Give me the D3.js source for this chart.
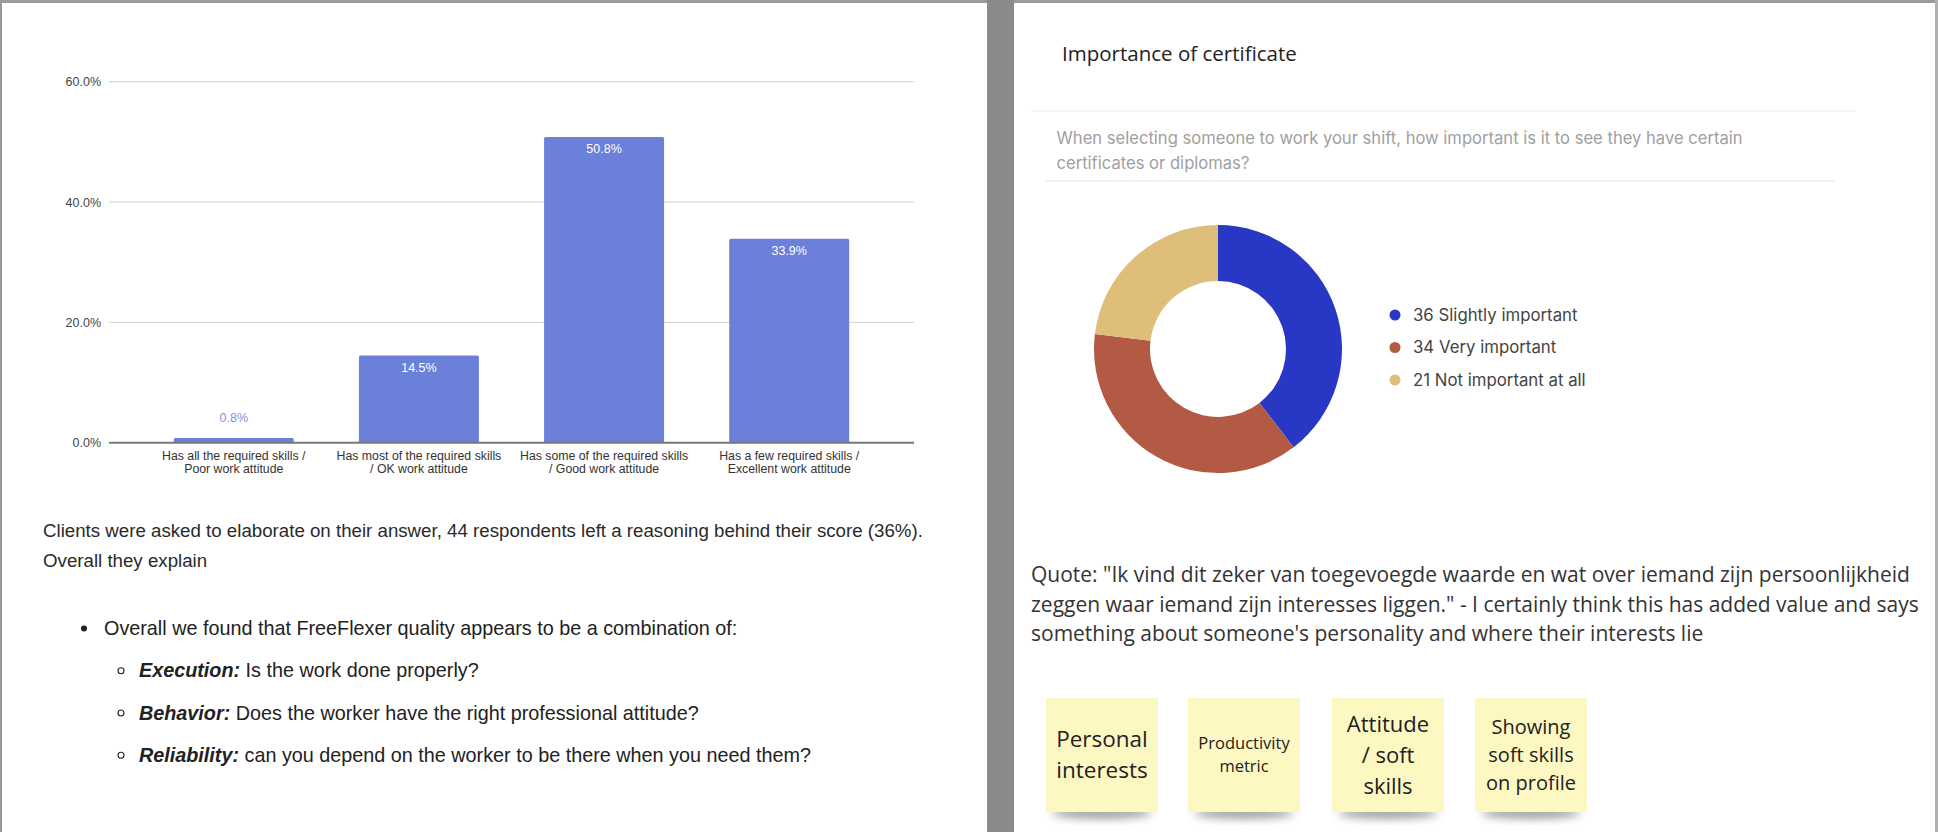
<!DOCTYPE html>
<html>
<head>
<meta charset="utf-8">
<script src="https://cdn.jsdelivr.net/npm/d3@7"></script>
<style>
  body { margin: 0; background: #fff; }
  svg { display: block; }
</style>
</head>
<body>
<svg id="page" width="1938" height="832"></svg>
<script>
// bar chart data
var barCategories = [
  ["Has all the required skills /", "Poor work attitude"],
  ["Has most of the required skills", "/ OK work attitude"],
  ["Has some of the required skills", "/ Good work attitude"],
  ["Has a few required skills /", "Excellent work attitude"]
];
var barValues = [0.8, 14.5, 50.8, 33.9];
var yTicks = [0, 20, 40, 60];

// donut data
var donutLabels = ["Slightly important", "Very important", "Not important at all"];
var donutValues = [36, 34, 21];
var donutColors = ["#2837c4", "#b35a44", "#dfbe79"];

// texts
var introLines = [
  "Clients were asked to elaborate on their answer, 44 respondents left a reasoning behind their score (36%).",
  "Overall they explain"
];
var bulletMain = "Overall we found that FreeFlexer quality appears to be a combination of:";
var subBullets = [
  ["Execution:", " Is the work done properly?"],
  ["Behavior:", " Does the worker have the right professional attitude?"],
  ["Reliability:", " can you depend on the worker to be there when you need them?"]
];
var quoteLines = [
  "Quote: \"Ik vind dit zeker van toegevoegde waarde en wat over iemand zijn persoonlijkheid",
  "zeggen waar iemand zijn interesses liggen.\" - I certainly think this has added value and says",
  "something about someone's personality and where their interests lie"
];
var notes = [
  {lines: ["Personal", "interests"], size: 22.5, gap: 31},
  {lines: ["Productivity", "metric"], size: 16.5, gap: 23},
  {lines: ["Attitude", "/ soft", "skills"], size: 22, gap: 31},
  {lines: ["Showing", "soft skills", "on profile"], size: 20, gap: 28}
];

var svg = d3.select("#page");

//Sfondo / cornici
svg.append("rect").attr("x", 0).attr("y", 0).attr("width", 1938).attr("height", 832).attr("fill", "#fff");
svg.append("rect").attr("x", 0).attr("y", 0).attr("width", 1938).attr("height", 3).attr("fill", "#9a9a9a");
svg.append("rect").attr("x", 0).attr("y", 0).attr("width", 2).attr("height", 832).attr("fill", "#9a9a9a");
svg.append("rect").attr("x", 987).attr("y", 0).attr("width", 27).attr("height", 832).attr("fill", "#8a8a8a");
svg.append("rect").attr("x", 1935).attr("y", 0).attr("width", 3).attr("height", 832).attr("fill", "#b0b0b0");

//Bar chart
var barFont = "'Liberation Sans', Arial, sans-serif";
var barColor = "#6b80d9";

var x = d3.scaleBand()
  .domain(d3.range(barValues.length))
  .range([109, 914])
  .paddingInner(0.352)
  .paddingOuter(0.35);

var y = d3.scaleLinear().domain([0, 60]).range([442.7, 81.7]);

var bars = svg.append("g").attr("id", "bars");

bars.append("g")
  .attr("class", "grid")
  .selectAll("line")
  .data(yTicks.filter(function(d) { return d > 0; }))
  .join("line")
  .attr("x1", 109).attr("x2", 914)
  .attr("y1", function(d) { return y(d); })
  .attr("y2", function(d) { return y(d); })
  .attr("stroke", "#d9d9d9")
  .attr("stroke-width", 1.2);

var yAxis = bars.append("g")
  .attr("transform", "translate(109,0)")
  .call(d3.axisLeft(y).tickValues(yTicks).tickSize(0).tickPadding(8)
    .tickFormat(function(d) { return d3.format(".1f")(d) + "%"; }));
yAxis.select(".domain").remove();
yAxis.selectAll("text")
  .style("font-family", barFont)
  .style("font-size", "12.5px")
  .attr("fill", "#444");

bars.selectAll(".bar")
  .data(barValues)
  .join("rect")
  .attr("class", "bar")
  .attr("x", function(d, i) { return x(i); })
  .attr("width", x.bandwidth())
  .attr("y", function(d) { return y(d); })
  .attr("height", function(d) { return y(0) - y(d); })
  .attr("rx", 1.5)
  .attr("fill", barColor);

bars.append("line")
  .attr("x1", 109).attr("x2", 914)
  .attr("y1", y(0)).attr("y2", y(0))
  .attr("stroke", "#777")
  .attr("stroke-width", 2);

bars.selectAll(".valLabel")
  .data(barValues)
  .join("text")
  .attr("class", "valLabel")
  .attr("x", function(d, i) { return x(i) + x.bandwidth() / 2; })
  .attr("y", function(d) { return d < 5 ? y(d) - 20 : y(d) + 12; })
  .attr("dy", "0.35em")
  .attr("text-anchor", "middle")
  .style("font-family", barFont)
  .style("font-size", "12.5px")
  .attr("fill", function(d) { return d < 5 ? "#7e91e2" : "#fff"; })
  .text(function(d) { return d3.format(".1f")(d) + "%"; });

var xLab = bars.selectAll(".xLabel")
  .data(barCategories)
  .join("text")
  .attr("class", "xLabel")
  .attr("text-anchor", "middle")
  .style("font-family", barFont)
  .style("font-size", "12.3px")
  .attr("fill", "#333");
xLab.selectAll("tspan")
  .data(function(d, i) { return d.map(function(t) { return {t: t, i: i}; }); })
  .join("tspan")
  .attr("x", function(d) { return x(d.i) + x.bandwidth() / 2; })
  .attr("y", function(d, j) { return 460 + j * 12.8; })
  .text(function(d) { return d.t; });

//Testo sinistra
var bodyFont = "'Liberation Sans', Arial, sans-serif";
svg.append("g").selectAll("text")
  .data(introLines)
  .join("text")
  .attr("x", 43)
  .attr("y", function(d, i) { return 537 + i * 29.5; })
  .style("font-family", bodyFont)
  .style("font-size", "18.7px")
  .attr("fill", "#2a2a2a")
  .text(function(d) { return d; });

svg.append("circle").attr("cx", 84).attr("cy", 628.5).attr("r", 3).attr("fill", "#222");
svg.append("text")
  .attr("x", 104).attr("y", 635)
  .style("font-family", bodyFont)
  .style("font-size", "19.8px")
  .attr("fill", "#222")
  .text(bulletMain);

var subs = svg.append("g").selectAll("g")
  .data(subBullets)
  .join("g")
  .attr("transform", function(d, i) { return "translate(0," + (670.8 + i * 42.2) + ")"; });
subs.append("circle")
  .attr("cx", 121).attr("cy", 0).attr("r", 3)
  .attr("fill", "none").attr("stroke", "#222").attr("stroke-width", 1.1);
var subText = subs.append("text")
  .attr("x", 139).attr("y", 6.5)
  .style("font-family", bodyFont)
  .style("font-size", "19.8px")
  .attr("fill", "#222");
subText.append("tspan")
  .style("font-weight", "bold").style("font-style", "italic")
  .text(function(d) { return d[0]; });
subText.append("tspan").text(function(d) { return d[1]; });

//Pannello destro
svg.append("text")
  .attr("x", 1062).attr("y", 60.5)
  .style("font-family", "'Open Sans', sans-serif")
  .style("font-size", "20.5px")
  .attr("fill", "#222")
  .text("Importance of certificate");

svg.append("line").attr("x1", 1031).attr("x2", 1855).attr("y1", 111).attr("y2", 111)
  .attr("stroke", "#ececec").attr("stroke-width", 1.2);
svg.append("line").attr("x1", 1046).attr("x2", 1835).attr("y1", 181).attr("y2", 181)
  .attr("stroke", "#efefef").attr("stroke-width", 2);

svg.append("g").selectAll("text")
  .data(["When selecting someone to work your shift, how important is it to see they have certain",
         "certificates or diplomas?"])
  .join("text")
  .attr("x", 1056.5)
  .attr("y", function(d, i) { return 144 + i * 25; })
  .style("font-family", "Inter, sans-serif")
  .style("font-size", "16.6px")
  .attr("fill", "#a0a0a0")
  .text(function(d) { return d; });

// donut
var pie = d3.pie().sort(null).value(function(d) { return d; });
var arc = d3.arc().innerRadius(68).outerRadius(124);
var donut = svg.append("g").attr("transform", "translate(1218,349)");
donut.selectAll("path")
  .data(pie(donutValues))
  .join("path")
  .attr("d", arc)
  .attr("fill", function(d, i) { return donutColors[i]; });

var legend = svg.append("g").selectAll("g")
  .data(donutValues)
  .join("g")
  .attr("transform", function(d, i) { return "translate(1395," + (315 + i * 32.5) + ")"; });
legend.append("circle").attr("r", 5.5).attr("fill", function(d, i) { return donutColors[i]; });
legend.append("text")
  .attr("x", 18).attr("dy", "0.35em")
  .style("font-family", "Inter, sans-serif")
  .style("font-size", "16.8px")
  .attr("fill", "#444")
  .text(function(d, i) { return d + " " + donutLabels[i]; });

// citazione
svg.append("g").selectAll("text")
  .data(quoteLines)
  .join("text")
  .attr("x", 1031)
  .attr("y", function(d, i) { return 582 + i * 29.5; })
  .style("font-family", "'Open Sans', sans-serif")
  .style("font-size", "21px")
  .attr("fill", "#333")
  .text(function(d) { return d; });

// post-it
var defs = svg.append("defs");
var blur = defs.append("filter").attr("id", "shadow").attr("x", "-20%").attr("y", "-50%").attr("width", "140%").attr("height", "200%");
blur.append("feGaussianBlur").attr("stdDeviation", 4);

var noteX = [1046, 1188, 1332, 1475];
var noteG = svg.append("g").selectAll("g")
  .data(notes)
  .join("g")
  .attr("transform", function(d, i) { return "translate(" + noteX[i] + ",698)"; });
noteG.append("ellipse")
  .attr("cx", 56).attr("cy", 115).attr("rx", 50).attr("ry", 6)
  .attr("fill", "#555").attr("opacity", 0.55)
  .attr("filter", "url(#shadow)");
noteG.append("rect")
  .attr("width", 112).attr("height", 114)
  .attr("fill", "#fdf7c2");
noteG.each(function(d) {
  var g = d3.select(this);
  var n = d.lines.length;
  var cy = 57;
  g.selectAll("text")
    .data(d.lines)
    .join("text")
    .attr("x", 56)
    .attr("y", function(t, j) { return cy + (j - (n - 1) / 2) * d.gap; })
    .attr("dy", "0.35em")
    .attr("text-anchor", "middle")
    .style("font-family", "'Open Sans', sans-serif")
    .style("font-size", d.size + "px")
    .attr("fill", "#222")
    .text(function(t) { return t; });
});
</script>
</body>
</html>
